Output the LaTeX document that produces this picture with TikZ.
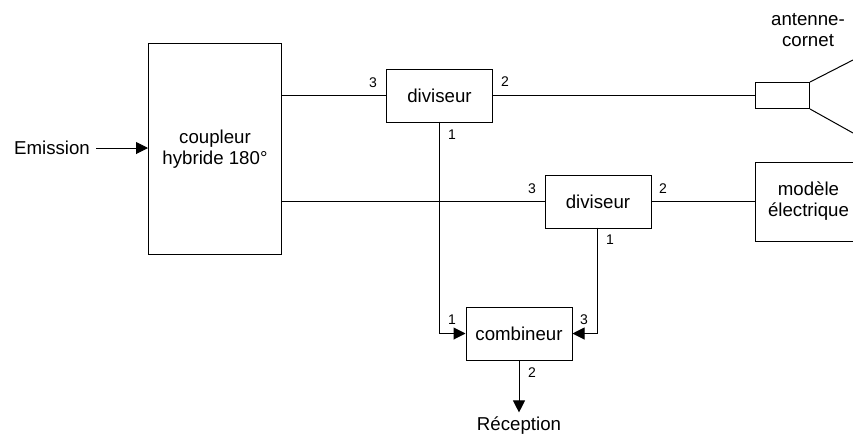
\documentclass[tikz,border=0pt]{standalone}
\usepackage{fontspec}
\setmainfont{Liberation Sans}
\usetikzlibrary{arrows.meta}
\tikzset{
 px/.style={x=0.75pt,y=-0.75pt},
 box/.style={draw,line width=0.75pt,fill=white,inner sep=0pt,align=center,anchor=north west,font=\fontsize{14}{15.75}\selectfont},
 lab/.style={inner sep=0pt,align=center,font=\fontsize{14}{15.75}\selectfont},
 port/.style={inner sep=0pt,font=\fontsize{10.5}{12}\selectfont},
 wire/.style={line width=0.75pt},
 arr/.style={line width=0.75pt,-{Triangle[length=9pt,width=9pt]}}
}
\begin{document}
\begin{tikzpicture}[px]
\useasboundingbox[fill=white] (0,0) rectangle (853,437);
\node[box,minimum width=133*0.75pt,minimum height=211*0.75pt] (coupleur) at (148,43) {\rule{0pt}{4pt}coupleur\\hybride 180°};
\node[box,minimum width=106*0.75pt,minimum height=53*0.75pt] (div1) at (386,68.5) {diviseur};
\node[box,minimum width=106*0.75pt,minimum height=53*0.75pt] (div2) at (544.5,174.5) {diviseur};
\node[box,minimum width=106*0.75pt,minimum height=53*0.75pt] (comb) at (465.5,306.5) {combineur};
\node[box,minimum width=106*0.75pt,minimum height=79*0.75pt] (mod) at (755,161.5) {modèle\\électrique};
\node[box,minimum width=54*0.75pt,minimum height=26*0.75pt] (guide) at (755,82) {};
\node[lab] (em) at (52,148) {Emission};
\node[lab] (rec) at (519,426) {Réception};
\node[lab] (ant) at (808,30) {antenne-\\cornet};
\coordinate (hornA) at (853,60);
\coordinate (hornB) at (853,133);
\coordinate (d1s) at (439,121.5);
\coordinate (d2s) at (597.5,227.5);
\draw[wire] (guide.north east) -- (hornA);
\draw[wire] (guide.south east) -- (hornB);
\draw[wire] (coupleur.east |- div1.west) -- (div1.west);
\draw[wire] (coupleur.east |- div2.west) -- (div2.west);
\draw[wire] (div1.east) -- (guide.west);
\draw[wire] (div2.east) -- (mod.west |- div2.east);
\draw[arr] (em.east) ++(6,0) -- (em.east -| coupleur.west);
\draw[arr] (d1s) |- (comb.west);
\draw[arr] (d2s) |- (comb.east);
\draw[arr,shorten >=4.5*0.75pt] (comb.south) -- (comb.south |- rec.north);
\node[port] at (373,82.5) {3};
\node[port] at (505,82) {2};
\node[port] at (452,135) {1};
\node[port] at (532,188.5) {3};
\node[port] at (663,188.5) {2};
\node[port] at (610,240) {1};
\node[port] at (452,320) {1};
\node[port] at (584,320) {3};
\node[port] at (532,373) {2};
\end{tikzpicture}
\end{document}
